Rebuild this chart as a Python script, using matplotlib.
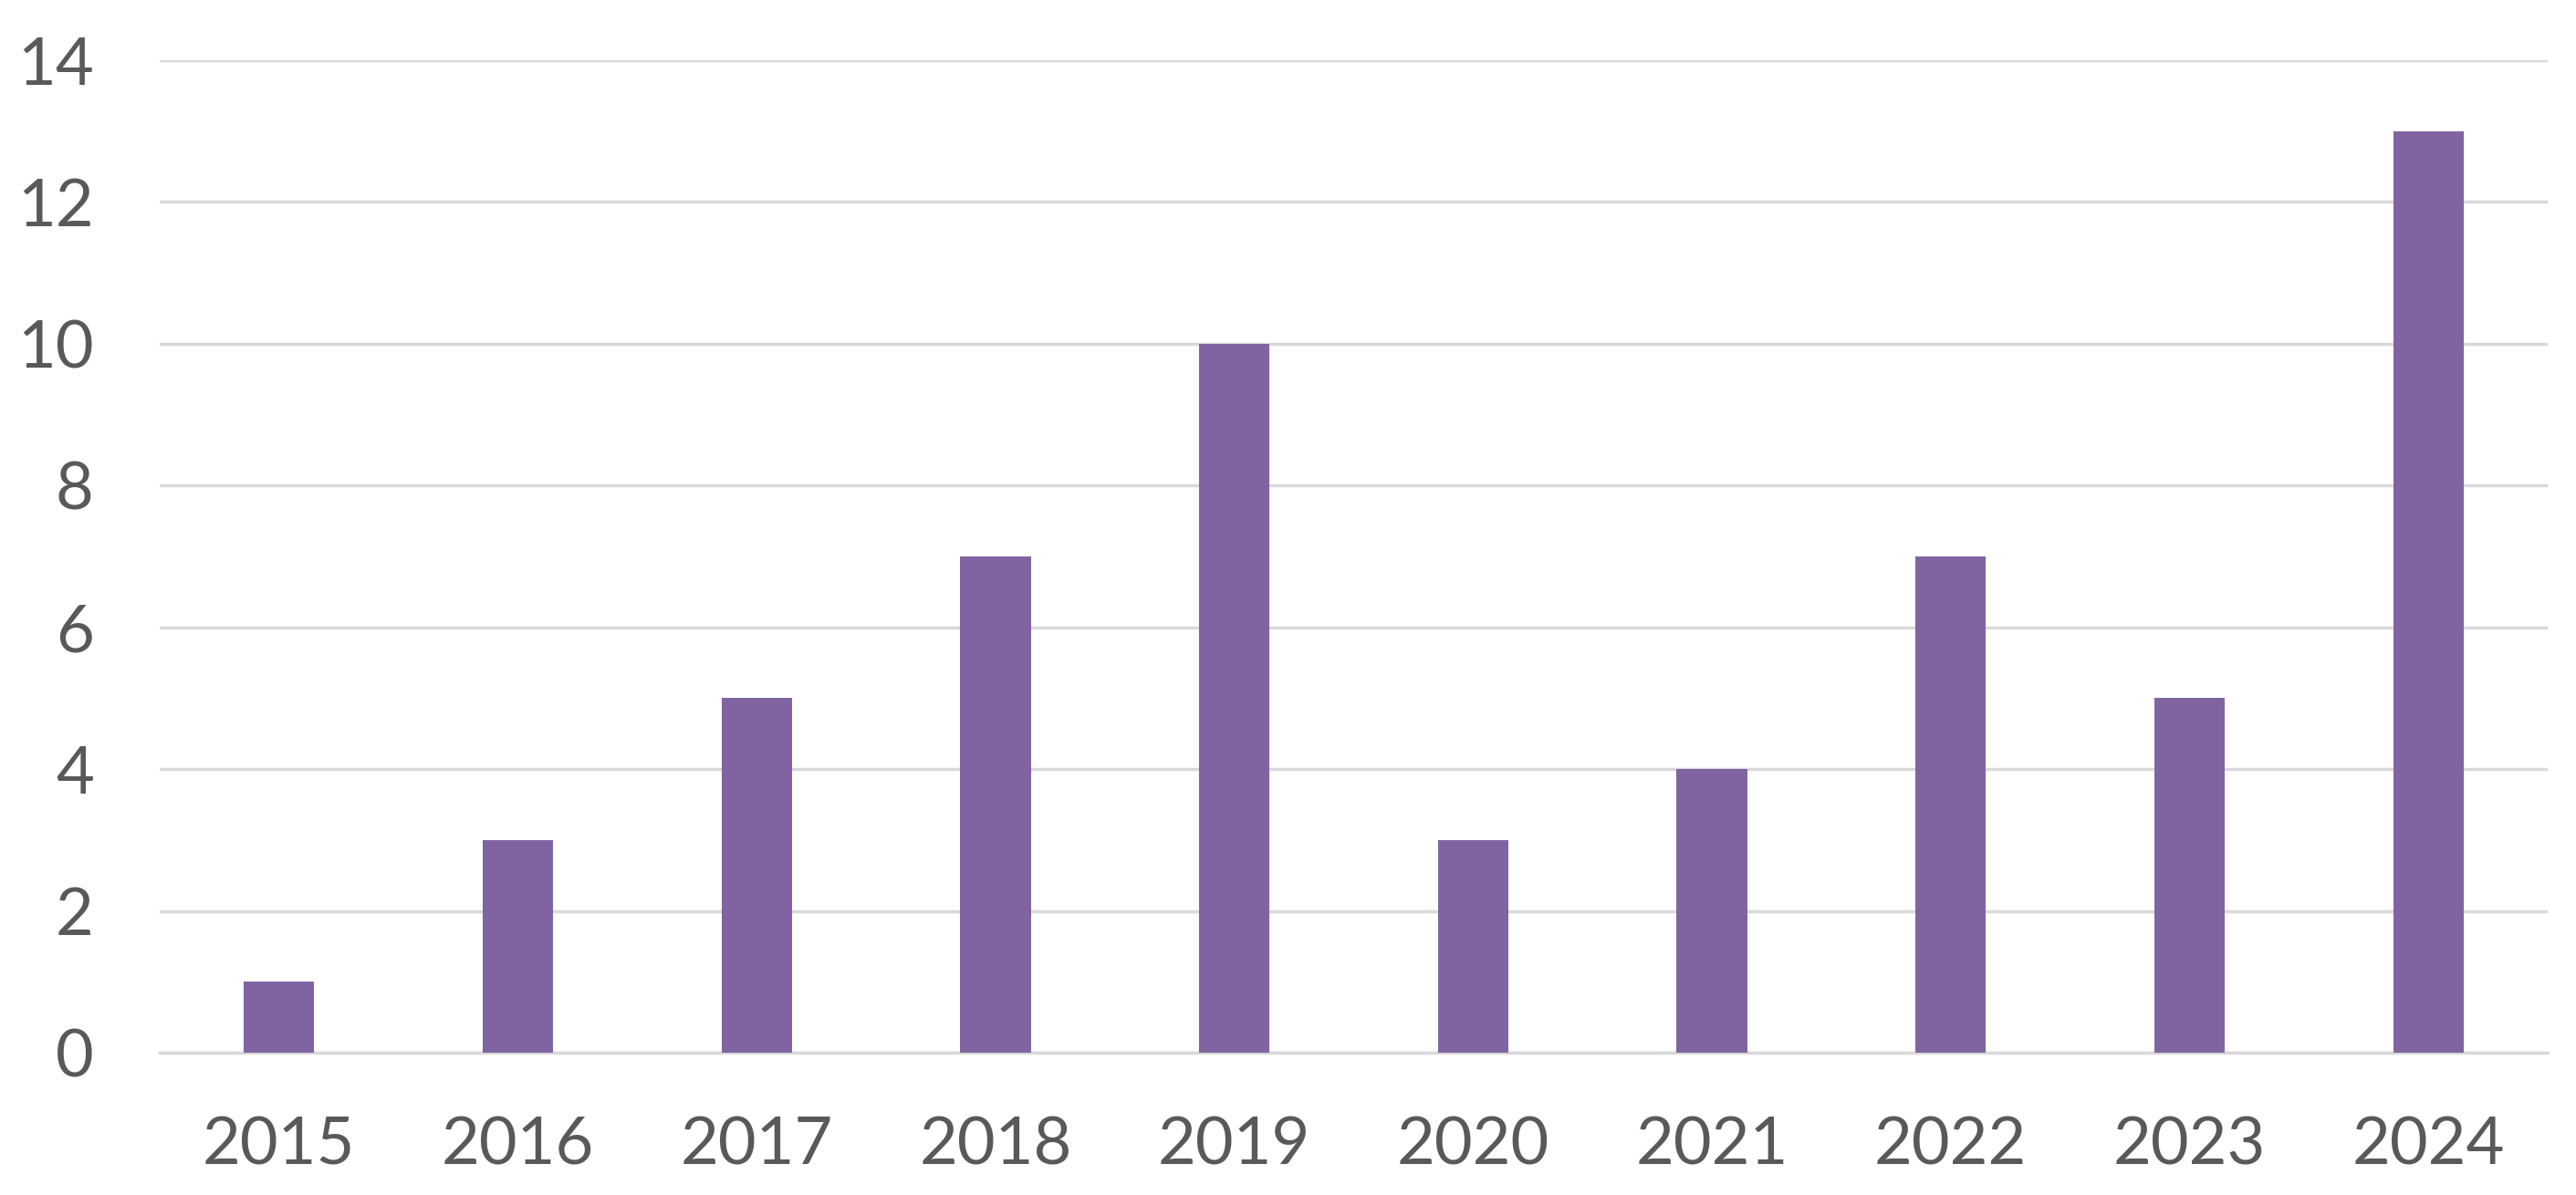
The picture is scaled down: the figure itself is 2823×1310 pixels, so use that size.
import matplotlib.pyplot as plt
import numpy as np

# Data
years = ['2015', '2016', '2017', '2018', '2019', '2020', '2021', '2022', '2023', '2024']
counts = [1, 3, 5, 7, 10, 3, 4, 7, 5, 13]

bar_color = '#8064A2'
grid_color = '#D9D9D9'
text_color = '#595959'

plt.rcParams['font.family'] = ['Lato', 'DejaVu Sans']

fig = plt.figure(figsize=(28.23, 13.10), dpi=100)
ax = fig.add_axes([0.062, 0.1191, 0.927, 0.8305])

x = np.arange(len(years))
ax.bar(x, counts, width=0.295, color=bar_color, zorder=3)

ax.set_xlim(-0.5, len(years) - 0.5)
ax.set_ylim(0, 14)
ax.set_yticks(range(0, 15, 2))
ax.set_xticks(x)
ax.set_xticklabels(years)

ax.yaxis.grid(True, color=grid_color, linewidth=2.5, zorder=0)
ax.set_axisbelow(True)
for side in ['top', 'right', 'left']:
    ax.spines[side].set_visible(False)
ax.spines['bottom'].set_color(grid_color)
ax.spines['bottom'].set_linewidth(2.5)

ax.tick_params(axis='both', length=0, labelsize=52, labelcolor=text_color)
ax.tick_params(axis='y', pad=52)
ax.tick_params(axis='x', pad=50)

fig.savefig('out.png', dpi=100, facecolor='white')
